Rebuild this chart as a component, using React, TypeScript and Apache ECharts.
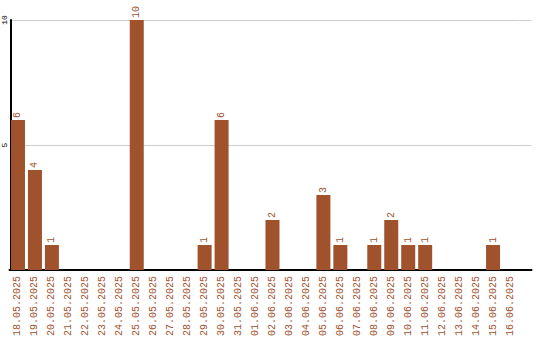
import React, { useEffect, useRef } from "react";
import * as echarts from "echarts";

const categories = [
  "18.05.2025", "19.05.2025", "20.05.2025", "21.05.2025", "22.05.2025",
  "23.05.2025", "24.05.2025", "25.05.2025", "26.05.2025", "27.05.2025",
  "28.05.2025", "29.05.2025", "30.05.2025", "31.05.2025", "01.06.2025",
  "02.06.2025", "03.06.2025", "04.06.2025", "05.06.2025", "06.06.2025",
  "07.06.2025", "08.06.2025", "09.06.2025", "10.06.2025", "11.06.2025",
  "12.06.2025", "13.06.2025", "14.06.2025", "15.06.2025", "16.06.2025",
];
const values = [6, 4, 1, 0, 0, 0, 0, 10, 0, 0, 0, 1, 6, 0, 0, 2, 0, 0, 3, 1, 0, 1, 2, 1, 1, 0, 0, 0, 1, 0];

const BROWN = "#A0522D";
const FONT = "Liberation Mono, DejaVu Sans Mono, monospace";

export default function App() {
  const ref = useRef<HTMLDivElement>(null);
  useEffect(() => {
    const chart = echarts.init(ref.current!, null, { renderer: "svg" });
    chart.setOption({
      animation: false,
      grid: [
        { left: 8.5, top: 20, width: 510, height: 250, containLabel: false },
        { left: 518.5, top: 20, width: 13, height: 250, containLabel: false },
      ],
      xAxis: [
        {
          type: "category",
          gridIndex: 0,
          data: categories,
          axisLine: { lineStyle: { color: "#000", width: 2 } },
          axisTick: { show: false },
          axisLabel: {
            rotate: 90,
            interval: 0,
            color: BROWN,
            fontFamily: FONT,
            fontSize: 10,
            margin: 6,
          },
        },
        {
          type: "category",
          gridIndex: 1,
          data: [""],
          axisLine: { lineStyle: { color: "#000", width: 2 } },
          axisTick: { show: false },
          axisLabel: { show: false },
        },
      ],
      yAxis: [
        {
          type: "value",
          gridIndex: 0,
          min: 0,
          max: 10,
          interval: 5,
          offset: -1.5,
          axisLine: { show: true, lineStyle: { color: "#000", width: 2 } },
          axisTick: { show: false },
          splitLine: { lineStyle: { color: "#ccc" } },
          axisLabel: {
            rotate: 90,
            color: "#000",
            fontFamily: FONT,
            fontSize: 8,
            margin: 3,
            formatter: (v: number) => (v === 0 ? "" : String(v)),
          },
        },
        {
          type: "value",
          gridIndex: 1,
          min: 0,
          max: 10,
          interval: 5,
          axisLine: { show: false },
          axisTick: { show: false },
          axisLabel: { show: false },
          splitLine: { lineStyle: { color: "#ccc" } },
        },
      ],
      series: [
        {
          type: "bar",
          xAxisIndex: 0,
          yAxisIndex: 0,
          data: values,
          barWidth: 14,
          itemStyle: { color: BROWN },
          label: {
            show: true,
            position: "top",
            rotate: 90,
            align: "left",
            verticalAlign: "middle",
            distance: 2,
            color: BROWN,
            fontFamily: FONT,
            fontSize: 10,
            formatter: (p: any) => (p.value === 0 ? "" : String(p.value)),
          },
        },
      ],
    });
    return () => chart.dispose();
  }, []);
  return (
    <div
      ref={ref}
      style={{ position: "fixed", left: 0, top: 0, width: 540, height: 340, background: "#fff" }}
    />
  );
}
